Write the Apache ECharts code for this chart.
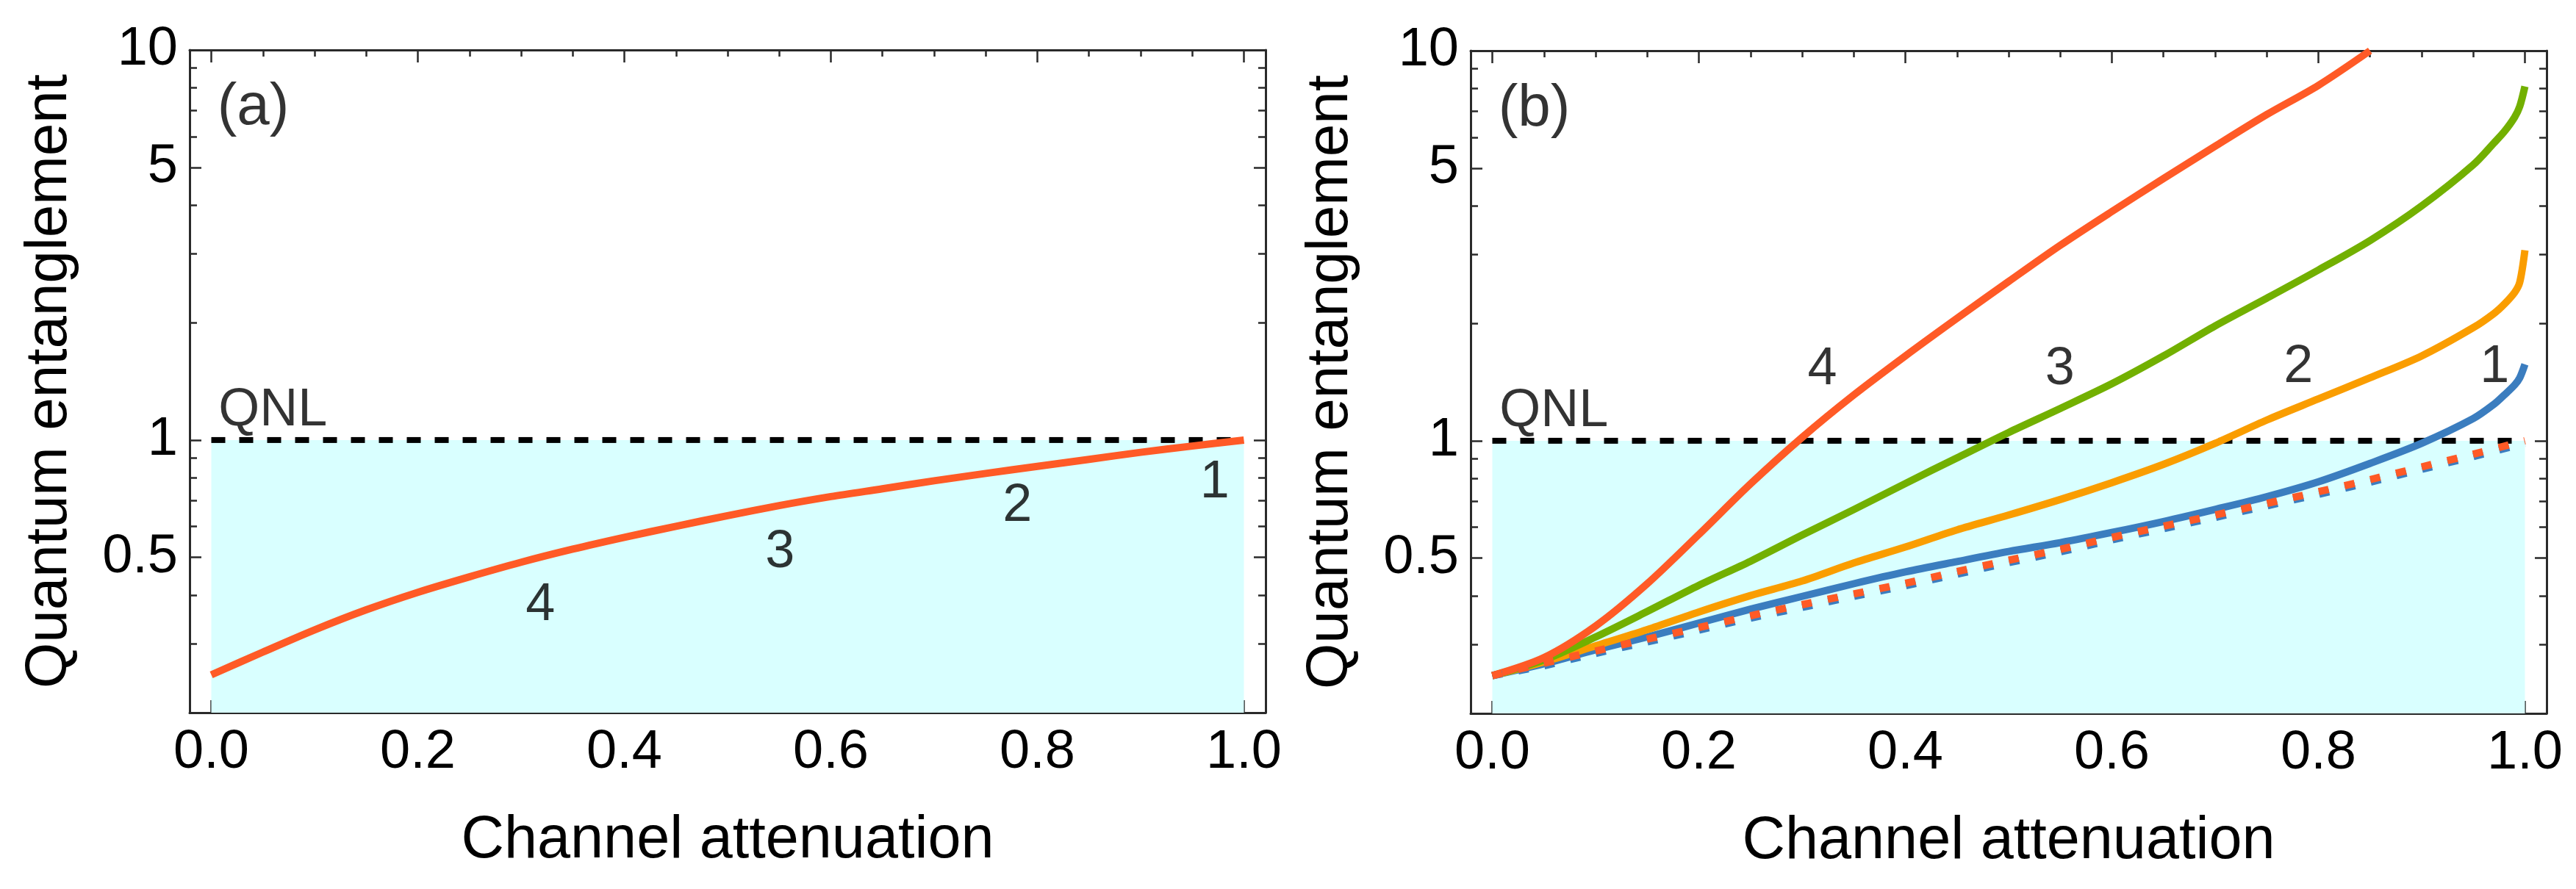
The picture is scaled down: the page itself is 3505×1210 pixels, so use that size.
<!DOCTYPE html>
<html><head><meta charset="utf-8">
<script src="https://cdn.jsdelivr.net/npm/echarts@6/dist/echarts.min.js"></script>
<style>html,body{margin:0;padding:0;background:#fff}#c{width:3505px;height:1210px}</style>
</head><body><div id="c"></div><script>
// ---------- data ----------
const xTickLabels = [0, 0.2, 0.4, 0.6, 0.8, 1.0];
const xMinorTicks = [0.05,0.1,0.15,0.25,0.3,0.35,0.45,0.5,0.55,0.65,0.7,0.75,0.85,0.9,0.95];
const yTickLabels = [0.5, 1, 5, 10];
const yMinorTicks = [0.3,0.4,0.6,0.7,0.8,0.9,2,3,4,6,7,8,9];
const qnlLevel = 1;
const qnlSpan = [0, 1];

// panel (a)
const xsA = [0,0.05,0.1,0.15,0.2,0.25,0.3,0.35,0.4,0.45,0.5,0.55,0.6,0.65,0.7,0.75,0.8,0.85,0.9,0.95,1.0];
const curveA = [0.25,0.286,0.326,0.367,0.407,0.446,0.486,0.525,0.563,0.601,0.640,0.679,0.716,0.750,0.786,0.821,0.856,0.892,0.930,0.965,1.0];

// panel (b)
const xsB = [0,0.05,0.1,0.15,0.2,0.25,0.3,0.35,0.4,0.45,0.5,0.55,0.6,0.65,0.7,0.75,0.8,0.85,0.9,0.95,0.97,0.98,0.99,0.995,1.0];
const curve1B = [0.25,0.268,0.291,0.314,0.341,0.370,0.399,0.430,0.461,0.490,0.520,0.548,0.582,0.621,0.667,0.719,0.785,0.875,0.985,1.14,1.24,1.31,1.39,1.45,1.57];
const curve2B = [0.25,0.271,0.298,0.328,0.364,0.401,0.437,0.486,0.534,0.591,0.645,0.707,0.781,0.870,0.985,1.13,1.28,1.45,1.65,1.95,2.12,2.24,2.40,2.55,3.08];
const curve3B = [0.25,0.274,0.314,0.365,0.426,0.491,0.573,0.666,0.777,0.904,1.05,1.21,1.40,1.65,1.97,2.32,2.74,3.26,4.0,5.1,5.8,6.2,6.75,7.2,8.1];
const curve4B = [0.25,0.278,0.335,0.43,0.575,0.775,1.02,1.31,1.65,2.06,2.56,3.17,3.87,4.70,5.69,6.86,8.15,10.0];
const xsDash = [0,0.05,0.1,0.15,0.2,0.25,0.3,0.35,0.4,0.45,0.5,0.55,0.6,0.65,0.7,0.75,0.8,0.85,0.9,0.95,1.0];
const boundRedB = [0.25,0.269,0.289,0.310,0.332,0.356,0.380,0.405,0.431,0.462,0.494,0.527,0.565,0.604,0.645,0.691,0.740,0.795,0.857,0.924,1.0];
const boundBlueB = [0.25,0.265,0.285,0.305,0.327,0.351,0.374,0.399,0.425,0.455,0.487,0.519,0.557,0.595,0.636,0.681,0.729,0.783,0.845,0.911,0.985];

// text anchors (data coordinates)
const panelTagsA = [[0.041, 7.1, '(a)']];
const panelTagsB = [[0.041, 7.05, '(b)']];
const notesA = [[0.06, 1.185, 'QNL'], [0.319, 0.376, '4'], [0.551, 0.514, '3'], [0.781, 0.676, '2'], [0.972, 0.775, '1']];
const notesB = [[0.06, 1.185, 'QNL'], [0.320, 1.52, '4'], [0.550, 1.52, '3'], [0.781, 1.54, '2'], [0.971, 1.54, '1']];

// ---------- style ----------
const FONT = 'Liberation Sans, Arial, Helvetica, sans-serif';
const FRAME = '#2a2a2a';
const C_RED = '#ff5a26', C_GREEN = '#72b000', C_ORANGE = '#fa9d00', C_BLUE = '#3b7dbf', C_FILL = '#d9ffff';
const X_MIN = -0.021, X_MAX = 1.021, Y_MIN = 0.2, Y_MAX = 10;

const zip = (xs, ys) => ys.map((y, i) => [xs[i], y]);

function xAxesFor(gi) {
  const base = {type:'value', gridIndex:gi, min:X_MIN, max:X_MAX, splitLine:{show:false},
    axisLine:{show:false,onZero:false}, axisLabel:{show:false}, axisTick:{show:false}};
  const line = {show:true,onZero:false,lineStyle:{color:FRAME,width:3}};
  const tick = (vals, len) => ({show:true,inside:true,length:len,customValues:vals,lineStyle:{color:FRAME,width:2.5}});
  return [
    Object.assign({}, base, {position:'bottom', axisLine:line, axisTick:tick(xTickLabels,17),
      axisLabel:{show:true,customValues:xTickLabels,formatter:v=>Number(v).toFixed(1),margin:18,fontSize:74,color:'#000',fontFamily:FONT},
      name:'Channel attenuation', nameLocation:'middle', nameGap:134,
      nameTextStyle:{fontSize:81,color:'#000',fontFamily:FONT}}),
    Object.assign({}, base, {position:'bottom', axisTick:tick(xMinorTicks,9)}),
    Object.assign({}, base, {position:'top', axisLine:line, axisTick:tick(xTickLabels,17)}),
    Object.assign({}, base, {position:'top', axisTick:tick(xMinorTicks,9)})
  ];
}
function yAxesFor(gi) {
  const base = {type:'log', logBase:10, gridIndex:gi, min:Y_MIN, max:Y_MAX, splitLine:{show:false},
    axisLine:{show:false,onZero:false}, axisLabel:{show:false}, axisTick:{show:false}, minorTick:{show:false}};
  const line = {show:true,onZero:false,lineStyle:{color:FRAME,width:3}};
  const tick = (vals, len) => ({show:true,inside:true,length:len,customValues:vals,lineStyle:{color:FRAME,width:2.5}});
  return [
    Object.assign({}, base, {position:'left', axisLine:line, axisTick:tick(yTickLabels,16),
      axisLabel:{show:true,customValues:yTickLabels,formatter:v=>String(Number(Number(v).toPrecision(3))),margin:16,fontSize:74,color:'#000',fontFamily:FONT},
      name:'Quantum entanglement', nameLocation:'middle', nameGap:150,
      nameTextStyle:{fontSize:80,color:'#000',fontFamily:FONT}}),
    Object.assign({}, base, {position:'left', axisTick:tick(yMinorTicks,10)}),
    Object.assign({}, base, {position:'right', axisLine:line, axisTick:tick(yTickLabels,16)}),
    Object.assign({}, base, {position:'right', axisTick:tick(yMinorTicks,10)})
  ];
}

function qnlSeries(xi, yi) {
  return {type:'line', xAxisIndex:xi, yAxisIndex:yi, z:3, silent:true, symbol:'none',
    data: qnlSpan.map(x => [x, qnlLevel]),
    lineStyle:{color:'#000', width:8, type:[19,19]},
    markArea:{silent:true, itemStyle:{color:C_FILL}, data:[[{coord:[qnlSpan[0], Y_MIN]}, {coord:[qnlSpan[1], qnlLevel]}]]}};
}
function curve(xi, yi, xs, ys, color, width, dash, z) {
  return {type:'line', xAxisIndex:xi, yAxisIndex:yi, z:z, silent:true, symbol:'none', showSymbol:false,
    smooth:0.3, data: zip(xs, ys),
    lineStyle:{color:color, width:width, type: dash || 'solid', cap:'butt', join:'round'}};
}
function notes(xi, yi, items, size) {
  return {type:'scatter', xAxisIndex:xi, yAxisIndex:yi, z:10, silent:true, symbolSize:1,
    itemStyle:{color:'rgba(0,0,0,0)'},
    data: items.map(a => ({value:[a[0], a[1]], name:a[2]})),
    label:{show:true, position:[0,0], formatter:'{b}', align:'center', verticalAlign:'middle',
      fontSize:size, color:'#000', fontFamily:FONT}};
}

const option = {
  animation:false,
  backgroundColor:'#fff',
  textStyle:{fontFamily:FONT},
  grid:[
    {left:258, top:68, width:1464, height:902, containLabel:false},
    {left:2001, top:69, width:1464, height:902, containLabel:false}
  ],
  xAxis: xAxesFor(0).concat(xAxesFor(1)),
  yAxis: yAxesFor(0).concat(yAxesFor(1)),
  series: [
    qnlSeries(0, 0),
    curve(0, 0, xsA, curveA, C_RED, 10, null, 5),
    notes(0, 0, panelTagsA, 80),
    notes(0, 0, notesA, 72),

    qnlSeries(4, 4),
    curve(4, 4, xsB, curve1B, C_BLUE, 10, null, 5),
    curve(4, 4, xsB, curve2B, C_ORANGE, 10, null, 5),
    curve(4, 4, xsB, curve3B, C_GREEN, 10, null, 5),
    curve(4, 4, xsB.slice(0, curve4B.length), curve4B, C_RED, 10, null, 5),
    curve(4, 4, xsDash, boundBlueB, C_BLUE, 10, [14,22], 6),
    curve(4, 4, xsDash, boundRedB, C_RED, 10, [14,22], 7),
    notes(4, 4, panelTagsB, 80),
    notes(4, 4, notesB, 72)
  ]
};
const chart = echarts.init(document.getElementById('c'), null, {renderer:'canvas'});
chart.setOption(option);
</script></body></html>
